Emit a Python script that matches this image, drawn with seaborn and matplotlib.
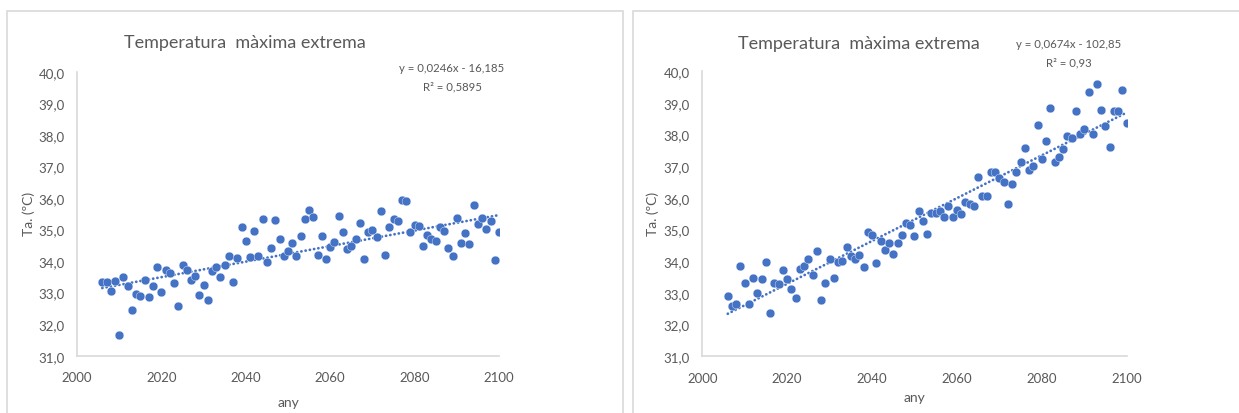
import numpy as np
import pandas as pd
import matplotlib
matplotlib.use("Agg")
import matplotlib.pyplot as plt
from matplotlib.patches import Rectangle
import seaborn as sns

# ---------------- data ----------------
years = list(range(2006, 2101))

tmax_left = [
    33.35, 33.35, 33.04, 33.38, 31.67, 33.50, 33.20, 32.46, 32.94, 32.90,
    33.40, 32.85, 33.20, 33.82, 33.02, 33.73, 33.62, 33.30, 32.57, 33.89,
    33.71, 33.41, 33.51, 32.92, 33.25, 32.76, 33.69, 33.80, 33.49, 33.87,
    34.15, 33.35, 34.11, 35.07, 34.62, 34.12, 34.96, 34.16, 35.32, 33.98,
    34.40, 35.30, 34.70, 34.15, 34.31, 34.58, 34.15, 34.80, 35.32, 35.63,
    35.40, 34.20, 34.80, 34.07, 34.45, 34.59, 35.43, 34.93, 34.38, 34.47,
    34.69, 35.20, 34.05, 34.91, 34.97, 34.75, 35.58, 34.18, 35.09, 35.32,
    35.26, 35.95, 35.90, 34.91, 35.13, 35.10, 34.49, 34.81, 34.70, 34.62,
    35.09, 34.96, 34.40, 34.15, 35.36, 34.57, 34.88, 34.55, 35.78, 35.17,
    35.37, 35.02, 35.26, 34.03, 34.93,
]

tmax_right = [
    32.92, 32.58, 32.65, 33.85, 33.31, 32.64, 33.48, 33.01, 33.43, 33.98,
    32.37, 33.33, 33.28, 33.74, 33.44, 33.14, 32.84, 33.75, 33.86, 34.06,
    33.56, 34.33, 32.79, 33.31, 34.08, 33.48, 33.97, 34.00, 34.44, 34.17,
    34.08, 34.21, 33.81, 34.93, 34.83, 33.95, 34.65, 34.37, 34.59, 34.22,
    34.57, 34.84, 35.22, 35.15, 34.80, 35.59, 35.28, 34.86, 35.52, 35.54,
    35.59, 35.40, 35.74, 35.40, 35.61, 35.49, 35.87, 35.81, 35.74, 36.67,
    36.07, 36.05, 36.83, 36.81, 36.63, 36.49, 35.81, 36.43, 36.81, 37.13,
    37.57, 36.88, 37.02, 38.32, 37.23, 37.79, 38.84, 37.13, 37.29, 37.55,
    37.95, 37.88, 38.75, 38.02, 38.17, 39.35, 38.03, 39.61, 38.79, 38.26,
    37.61, 38.75, 38.75, 39.40, 38.38,
]

title_text = "Temperatura  màxima extrema"
x_label = "any"
y_label = "Ta. (ºC)"
eq_left = ["y = 0,0246x - 16,185", "R² = 0,5895"]
eq_right = ["y = 0,0674x - 102,85", "R² = 0,93"]

x_ticks = [2000, 2020, 2040, 2060, 2080, 2100]
x_tick_labels = ["2000", "2020", "2040", "2060", "2080", "2100"]
y_ticks = [31, 32, 33, 34, 35, 36, 37, 38, 39, 40]
y_tick_labels = ["31,0", "32,0", "33,0", "34,0", "35,0", "36,0", "37,0", "38,0", "39,0", "40,0"]

# ---------------- style ----------------
sns.set_theme(style="white")
plt.rcParams["font.family"] = ["Lato", "DejaVu Sans"]

BLUE = "#4472C4"
GREY_TXT = "#595959"
GREY_LINE = "#D9D9D9"

W, H = 1239, 414
fig = plt.figure(figsize=(W / 100, H / 100), dpi=100)
fig.patch.set_facecolor("white")

# panel borders (chart areas)
fig.add_artist(Rectangle((7 / W, -0.05), (623 - 7) / W, 1.05 - 12 / H,
                         transform=fig.transFigure, fill=False,
                         edgecolor=GREY_LINE, linewidth=1.2))
fig.add_artist(Rectangle((632.5 / W, -0.05), 0.5, 1.05 - 12 / H,
                         transform=fig.transFigure, fill=False,
                         edgecolor=GREY_LINE, linewidth=1.2))

panels = [
    dict(vals=tmax_left, eq=eq_left, ax_px=(77, 499, 72.7, 356.7),
         title_xy=(245, 43), eq_xy=(452, 68, 87), ylab_x=29, xlab_y=403),
    dict(vals=tmax_right, eq=eq_right, ax_px=(702.3, 1126.7, 72.3, 357.3),
         title_xy=(859, 44), eq_xy=(1069, 45, 63), ylab_x=653, xlab_y=398),
]

for p in panels:
    x0, x1, ytop, ybot = p["ax_px"]
    ax = fig.add_axes([x0 / W, 1 - ybot / H, (x1 - x0) / W, (ybot - ytop) / H])
    df = pd.DataFrame({"any": years, "temp": p["vals"]})

    sns.regplot(data=df, x="any", y="temp", ax=ax, scatter=False, ci=None,
                truncate=True,
                line_kws=dict(color=BLUE, linestyle=(0, (0.05, 1.5)),
                              linewidth=2.0, dash_capstyle="round", zorder=1))
    sns.scatterplot(data=df, x="any", y="temp", ax=ax, color=BLUE, s=40,
                    edgecolor="white", linewidth=0.25, zorder=3, legend=False)

    ax.set_xlim(2000, 2100)
    ax.set_ylim(31, 40)
    ax.set_xticks(x_ticks)
    ax.set_xticklabels(x_tick_labels)
    ax.set_yticks(y_ticks)
    ax.set_yticklabels(y_tick_labels)
    ax.tick_params(axis="both", length=0, labelsize=9.5, colors=GREY_TXT)
    ax.tick_params(axis="x", pad=11)
    ax.tick_params(axis="y", pad=9)
    ax.set_xlabel("")
    ax.set_ylabel("")
    for side in ["top", "right"]:
        ax.spines[side].set_visible(False)
    for side in ["left", "bottom"]:
        ax.spines[side].set_color(GREY_LINE)
        ax.spines[side].set_linewidth(1.2)
    ax.grid(False)

    # title
    tx, ty = p["title_xy"]
    fig.text(tx / W, 1 - ty / H, title_text, ha="center", va="center",
             fontsize=13, color=GREY_TXT)
    # equation
    ex, ey1, ey2 = p["eq_xy"]
    fig.text(ex / W, 1 - ey1 / H, p["eq"][0], ha="center", va="center",
             fontsize=8.2, color=GREY_TXT)
    fig.text(ex / W, 1 - ey2 / H, p["eq"][1], ha="center", va="center",
             fontsize=8.2, color=GREY_TXT)
    # axis labels
    fig.text(p["ylab_x"] / W, 1 - 214 / H, y_label, ha="center", va="center",
             rotation=90, fontsize=10, color=GREY_TXT)
    fig.text(((x0 + x1) / 2) / W, 1 - p["xlab_y"] / H, x_label, ha="center",
             va="center", fontsize=10, color=GREY_TXT)

fig.savefig("out.png", dpi=100, facecolor="white")
